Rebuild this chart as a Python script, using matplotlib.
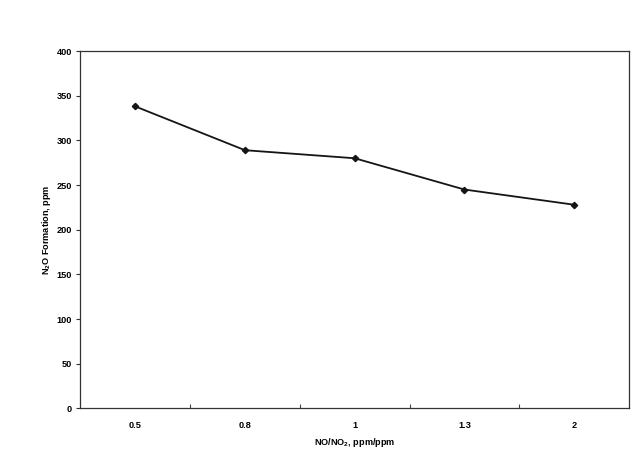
import numpy as np
import matplotlib
matplotlib.use("Agg")
import matplotlib.pyplot as plt

ratios = ["0.5", "0.8", "1", "1.3", "2"]
n2o = [338, 289, 280, 245, 228]
yticks = [0, 50, 100, 150, 200, 250, 300, 350, 400]

plt.rcParams['font.family'] = ['Liberation Sans', 'DejaVu Sans']
plt.rcParams['font.weight'] = 'bold'
plt.rcParams['mathtext.fontset'] = 'custom'
plt.rcParams['mathtext.bf'] = 'Liberation Sans:bold'
plt.rcParams['mathtext.rm'] = 'Liberation Sans:bold'

fig = plt.figure(figsize=(6.33, 4.55), dpi=100)
ax = fig.add_axes([0.127, 0.1022, 0.8667, 0.7857])

x = np.arange(len(ratios))
ax.plot(x, n2o, color='#151515', lw=1.3, marker='D', ms=3.2,
        mfc='#151515', mec='#151515')

ax.set_xlim(-0.5, len(ratios) - 0.5)
ax.set_ylim(0, 400)
ax.set_yticks(yticks)
ax.set_yticklabels([str(v) for v in yticks], fontsize=6.6, fontweight='bold')

# category labels centred, tick marks between categories
ax.set_xticks(x)
ax.set_xticklabels(ratios, fontsize=6.6, fontweight='bold')
ax.tick_params(axis='x', which='major', length=0, pad=9)
ax.set_xticks(x[:-1] + 0.5, minor=True)
ax.tick_params(axis='x', which='minor', direction='in', length=3, width=0.8, color='#444444')
ax.tick_params(axis='y', direction='out', length=3, width=0.8, pad=3, color='#333333')

for s in ax.spines.values():
    s.set_linewidth(0.9)
    s.set_color('#333333')

ax.set_xlabel('NO/NO$_\\mathbf{2}$, ppm/ppm', fontsize=6.6, fontweight='bold', labelpad=4)
ax.set_ylabel('N$_\\mathbf{2}$O Formation, ppm', fontsize=6.6, fontweight='bold', labelpad=3)

fig.savefig('out.png', dpi=100)
